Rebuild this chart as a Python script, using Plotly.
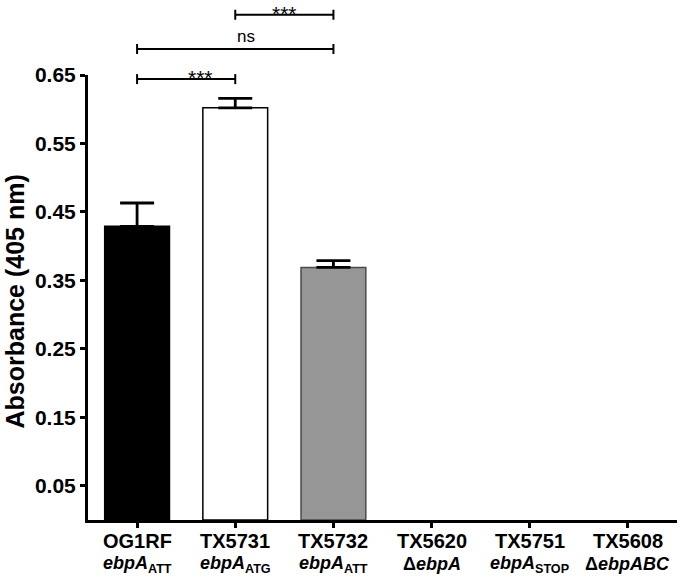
import plotly.graph_objects as go

strains = ["OG1RF", "TX5731", "TX5732", "TX5620", "TX5751", "TX5608"]
genotypes = ["<i>ebpA</i><sub>ATT</sub>", "<i>ebpA</i><sub>ATG</sub>", "<i>ebpA</i><sub>ATT</sub>",
             "Δ<i>ebpA</i>", "<i>ebpA</i><sub>STOP</sub>", "Δ<i>ebpABC</i>"]
absorbance = [0.429, 0.602, 0.369, 0.0, 0.0, 0.0]
sem = [0.034, 0.014, 0.010, 0.0, 0.0, 0.0]
bar_colors = ["#000000", "#ffffff", "#969696", "rgba(0,0,0,0)", "rgba(0,0,0,0)", "rgba(0,0,0,0)"]
line_colors = ["#000000", "#000000", "#4a4a4a", "rgba(0,0,0,0)", "rgba(0,0,0,0)", "rgba(0,0,0,0)"]
y_ticks = [0.05, 0.15, 0.25, 0.35, 0.45, 0.55, 0.65]
# significance comparisons: (bar i, bar j, bracket level in data units, label)
comparisons = [(1, 2, 0.738, "***"), (0, 2, 0.688, "ns"), (0, 1, 0.644, "***")]

Y0, Y1 = 0.0, 0.65
N = len(strains)
PLOT_H = 445
FONT = "Liberation Sans, Arial"


def yp(v):
    return (v - Y0) / (Y1 - Y0)


def xp(i):
    return (i + 0.5) / N


fig = go.Figure()
fig.add_trace(go.Bar(
    x=list(range(N)), y=absorbance, width=0.66,
    marker=dict(color=bar_colors, line=dict(color=line_colors,
                                            width=[1.5 if v > 0 else 0 for v in absorbance])),
    showlegend=False,
))
err_idx = [k for k in range(N) if sem[k] > 0]
fig.add_trace(go.Scatter(
    x=err_idx, y=[absorbance[k] for k in err_idx], mode="markers",
    marker=dict(size=1, opacity=0),
    error_y=dict(type="data", symmetric=False, array=[sem[k] for k in err_idx],
                 arrayminus=[0] * len(err_idx), color="#000000", thickness=2.8, width=17),
    showlegend=False, hoverinfo="skip",
))

shapes = []
annotations = []
tick_h = 5 / PLOT_H
for i, j, lvl, lab in comparisons:
    y = yp(lvl)
    x0, x1 = xp(i), xp(j)
    shapes.append(dict(type="line", xref="paper", yref="paper", x0=x0, x1=x1, y0=y, y1=y,
                       line=dict(color="black", width=2)))
    for xx in (x0, x1):
        shapes.append(dict(type="line", xref="paper", yref="paper", x0=xx, x1=xx,
                           y0=y - tick_h, y1=y + tick_h, line=dict(color="black", width=2)))
    if lab == "***":
        annotations.append(dict(xref="paper", yref="paper", x=(x0 + x1) / 2, y=y,
                                text=lab, showarrow=False, yanchor="top", yshift=15,
                                font=dict(size=21, color="black", family=FONT)))
    else:
        annotations.append(dict(xref="paper", yref="paper", x=(x0 + x1) / 2, y=y,
                                text=lab, showarrow=False, yanchor="bottom", yshift=1,
                                font=dict(size=17, color="black", family=FONT)))

# category labels: strain name and genotype
for i, (s, g) in enumerate(zip(strains, genotypes)):
    annotations.append(dict(xref="x", yref="paper", x=i, y=0, yshift=-21, yanchor="middle",
                            text=f"<b>{s}</b>", showarrow=False,
                            font=dict(size=20, color="black", family=FONT)))
    annotations.append(dict(xref="x", yref="paper", x=i, y=0, yshift=-44, yanchor="middle",
                            text=f"<b>{g}</b>", showarrow=False,
                            font=dict(size=18, color="black", family=FONT)))

# y-axis title
annotations.append(dict(xref="paper", yref="paper", x=0, y=0.491, xshift=-73, textangle=-90,
                        text="<b>Absorbance (405 nm)</b>", showarrow=False,
                        xanchor="center", yanchor="middle",
                        font=dict(size=25, color="black", family=FONT)))

fig.update_layout(
    width=680, height=580,
    margin=dict(l=88, r=3, t=75, b=60),
    paper_bgcolor="white", plot_bgcolor="white",
    font=dict(family=FONT, color="black"),
    shapes=shapes, annotations=annotations,
)
fig.update_xaxes(
    range=[-0.5, N - 0.5], tickmode="array", tickvals=list(range(N)),
    showticklabels=False, automargin=False,
    showline=True, linecolor="black", linewidth=3, ticks="outside", ticklen=5, tickwidth=3,
    tickcolor="black", showgrid=False, zeroline=False,
)
fig.update_yaxes(
    range=[Y0, Y1], tickmode="array", tickvals=y_ticks, ticktext=[f"<b>{v:.2f}</b>" for v in y_ticks],
    automargin=False,
    showline=True, linecolor="black", linewidth=3, ticks="outside", ticklen=5, tickwidth=3,
    tickcolor="black", showgrid=False, zeroline=False,
    tickfont=dict(size=21, color="black", family=FONT),
)

fig.write_html("out.html", post_script="document.body.style.margin='0';",
               config={"displayModeBar": False})
